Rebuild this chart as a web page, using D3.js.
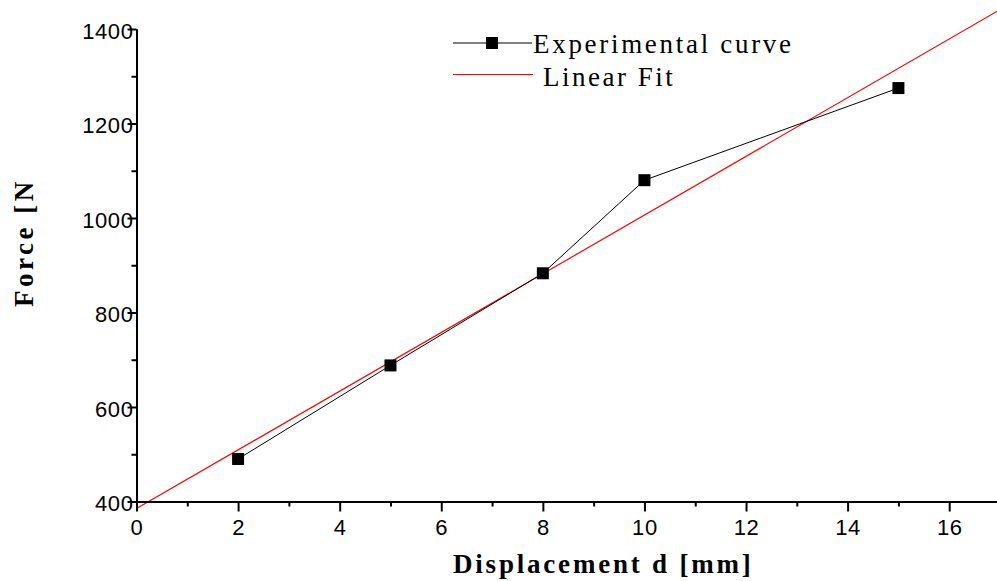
<!DOCTYPE html>
<html>
<head>
<meta charset="utf-8">
<script src="https://cdn.jsdelivr.net/npm/d3@7"></script>
<style>
  body { margin: 0; background: #fff; }
  svg { display: block; }
  .tick text { font-family: "Liberation Sans", Arial, sans-serif; font-size: 22px; fill: #000; letter-spacing: 0.6px; }
  .serif { font-family: "Liberation Serif", "Times New Roman", serif; fill: #000; }
</style>
</head>
<body>
<svg id="chart"></svg>
<script>
// data
const displacement = [2, 5, 8, 10, 15];
const force = [490, 688, 883, 1080, 1275];
const fitX = [0, 17];
const fitY = [385, 1441];
const xTicks = [0, 2, 4, 6, 8, 10, 12, 14, 16];
const xMinor = [1, 3, 5, 7, 9, 11, 13, 15];
const yTicks = [400, 600, 800, 1000, 1200, 1400];
const yMinor = [500, 700, 900, 1100, 1300];
const seriesNames = ['Experimental curve', 'Linear Fit'];

const W = 997, H = 581;
const svg = d3.select('#chart').attr('width', W).attr('height', H);

const x = d3.scaleLinear().domain([0, 17]).range([136.5, 1000]);
const y = d3.scaleLinear().domain([400, 1400]).range([501.5, 29]);

// linear fit (red)
const fit = fitX.map((d, i) => ({ x: d, y: fitY[i] }));
const line = d3.line().x(d => x(d.x)).y(d => y(d.y));
svg.append('path')
  .datum(fit)
  .attr('d', line)
  .attr('fill', 'none')
  .attr('stroke', '#ff0000')
  .attr('stroke-width', 1.2);

// experimental curve
const pts = displacement.map((d, i) => ({ x: d, y: force[i] }));
svg.append('path')
  .datum(pts)
  .attr('d', line)
  .attr('fill', 'none')
  .attr('stroke', '#000')
  .attr('stroke-width', 1);

const sq = 12;
svg.selectAll('rect.pt')
  .data(pts)
  .join('rect')
  .attr('class', 'pt')
  .attr('x', d => x(d.x) - sq / 2)
  .attr('y', d => y(d.y) - sq / 2)
  .attr('width', sq)
  .attr('height', sq)
  .attr('fill', '#000');

// axes
const styleAxis = g => {
  g.selectAll('path, line').attr('stroke', '#000').attr('stroke-width', 2);
};
const fmt = d3.format('d');

svg.append('g')
  .attr('transform', `translate(0, ${y(400)})`)
  .call(d3.axisBottom(x).tickValues(xMinor).tickSize(5).tickSizeOuter(0).tickFormat(''))
  .call(styleAxis);
svg.append('g')
  .attr('transform', `translate(0, ${y(400)})`)
  .call(d3.axisBottom(x).tickValues(xTicks).tickSize(10).tickPadding(8).tickSizeOuter(0).tickFormat(fmt))
  .call(styleAxis);

svg.append('g')
  .attr('transform', `translate(${x(0)}, 0)`)
  .call(d3.axisLeft(y).tickValues(yMinor).tickSize(5).tickSizeOuter(0).tickFormat(''))
  .call(styleAxis);
svg.append('g')
  .attr('transform', `translate(${x(0)}, 0)`)
  .call(d3.axisLeft(y).tickValues(yTicks).tickSize(9).tickPadding(-6).tickSizeOuter(0).tickFormat(fmt))
  .call(styleAxis)
  .call(g => g.selectAll('text').attr('dy', '0.42em'));

// axis labels
svg.append('text')
  .attr('class', 'serif')
  .attr('x', 453)
  .attr('y', 573)
  .style('font-size', '27px')
  .style('font-weight', 'bold')
  .style('letter-spacing', '2.8px')
  .text('Displacement d [mm]');

svg.append('text')
  .attr('class', 'serif')
  .attr('transform', 'translate(33, 307) rotate(-90)')
  .style('font-size', '27px')
  .style('font-weight', 'bold')
  .style('letter-spacing', '3.5px')
  .text('Force [N');

// legend
const leg = svg.append('g');
leg.append('line')
  .attr('x1', 453).attr('x2', 532).attr('y1', 43).attr('y2', 43)
  .attr('stroke', '#000').attr('stroke-width', 1);
leg.append('rect')
  .attr('x', 492 - sq / 2).attr('y', 43 - sq / 2)
  .attr('width', sq).attr('height', sq).attr('fill', '#000');
leg.append('text')
  .attr('class', 'serif')
  .attr('x', 533).attr('y', 53)
  .style('font-size', '27px')
  .style('letter-spacing', '2.7px')
  .text(seriesNames[0]);

leg.append('line')
  .attr('x1', 453).attr('x2', 533).attr('y1', 74.5).attr('y2', 74.5)
  .attr('stroke', '#ff0000').attr('stroke-width', 1);
leg.append('text')
  .attr('class', 'serif')
  .attr('x', 543).attr('y', 86)
  .style('font-size', '27px')
  .style('letter-spacing', '2.5px')
  .text(seriesNames[1]);
</script>
</body>
</html>
